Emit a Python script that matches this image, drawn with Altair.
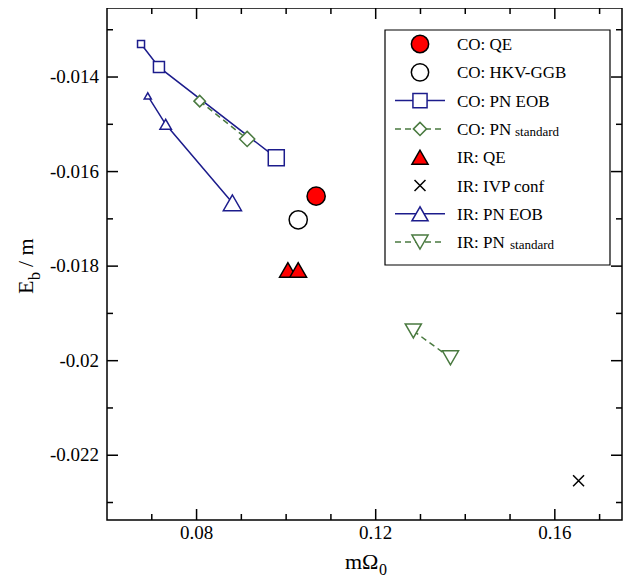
import altair as alt
import pandas as pd

FONT = "Liberation Serif"
NAVY = "#1c1c8c"
GREEN = "#4a7a40"
RED = "#ff0000"

# data
co_eob_x = [0.0676, 0.0716, 0.0978]; co_eob_y = [-0.01330, -0.01379, -0.01571]; co_eob_s = [49, 121, 256]
co_pn_x = [0.0807, 0.0913]; co_pn_y = [-0.01451, -0.01531]; co_pn_s = [130, 230]
ir_eob_x = [0.0691, 0.0731, 0.0880]; ir_eob_y = [-0.01440, -0.01500, -0.01666]; ir_eob_s = [50, 130, 330]
co_qe_x = [0.1067]; co_qe_y = [-0.01652]
co_hkv_x = [0.1027]; co_hkv_y = [-0.01702]
ir_qe_x = [0.1004, 0.1027]; ir_qe_y = [-0.01808, -0.01808]
ir_ivp_x = [0.1653]; ir_ivp_y = [-0.02254]
ir_pn_x = [0.1284, 0.1367]; ir_pn_y = [-0.01937, -0.01994]; ir_pn_s = [260, 260]

XDOM = [0.06, 0.175]
YDOM = [-0.02337, -0.01254]
x_minor = [0.07, 0.09, 0.10, 0.11, 0.13, 0.14, 0.15, 0.17]
x_major = [0.08, 0.12, 0.16]
x_labels = ["0.08", "0.12", "0.16"]
y_minor = [-0.013, -0.015, -0.017, -0.019, -0.021, -0.023]
y_major = [-0.014, -0.016, -0.018, -0.020, -0.022]
y_labels = ["-0.014", "-0.016", "-0.018", "-0.02", "-0.022"]

W, H = 515, 512
xs = alt.Scale(domain=XDOM, nice=False, zero=False)
ys = alt.Scale(domain=YDOM, nice=False, zero=False)
XN = alt.X("x:Q", scale=xs, axis=None)
YN = alt.Y("y:Q", scale=ys, axis=None)

def df(x, y, s=None):
    d = pd.DataFrame({"x": x, "y": y})
    d["s"] = s if s is not None else [250] * len(x)
    d["o"] = range(len(x))
    return d

layers = []

def series(x, y, s, shape, color, fill, dash=None, line=True, sw=1.5):
    d = df(x, y, s)
    out = []
    if line:
        lk = dict(color=color, strokeWidth=1.5)
        if dash:
            lk["strokeDash"] = dash
        out.append(alt.Chart(d).mark_line(**lk).encode(x=XN, y=YN, order="o:Q"))
    out.append(alt.Chart(d).mark_point(shape=shape, stroke=color, fill=fill, filled=False,
                                       fillOpacity=1, opacity=1, strokeWidth=sw).encode(
        x=XN, y=YN, size=alt.Size("s:Q", scale=None)))
    return out

XSHAPE = "M-1,-1L1,1M-1,1L1,-1"
layers += series(co_eob_x, co_eob_y, co_eob_s, "square", NAVY, "white")
layers += series(co_pn_x, co_pn_y, co_pn_s, "diamond", GREEN, "white", dash=[6, 4])
layers += series(ir_eob_x, ir_eob_y, ir_eob_s, "triangle-up", NAVY, "white")
layers += series(co_qe_x, co_qe_y, [330], "circle", "black", RED, line=False)
layers += series(co_hkv_x, co_hkv_y, [330], "circle", "black", "white", line=False)
layers += series(ir_qe_x, ir_qe_y, [280, 280], "triangle-up", "black", RED, line=False)
layers += series(ir_ivp_x, ir_ivp_y, [120], XSHAPE, "black", "white", line=False)
layers += series(ir_pn_x, ir_pn_y, ir_pn_s, "triangle-down", GREEN, "white", dash=[6, 4])

def xticks(vals, L):
    d = pd.DataFrame({"x": vals})
    b = alt.Chart(d).mark_rule(color="black", strokeWidth=1.5).encode(x=XN, y=alt.value(H), y2=alt.value(H - L))
    t = alt.Chart(d).mark_rule(color="black", strokeWidth=1.5).encode(x=XN, y=alt.value(0), y2=alt.value(L))
    return [b, t]

def yticks(vals, L):
    d = pd.DataFrame({"y": vals})
    l = alt.Chart(d).mark_rule(color="black", strokeWidth=1.5).encode(y=YN, x=alt.value(0), x2=alt.value(L))
    r = alt.Chart(d).mark_rule(color="black", strokeWidth=1.5).encode(y=YN, x=alt.value(W), x2=alt.value(W - L))
    return [l, r]

layers += xticks(x_major, 11) + xticks(x_minor, 6) + yticks(y_major, 11) + yticks(y_minor, 6)

# tick labels
layers.append(alt.Chart(pd.DataFrame({"x": x_major, "t": x_labels})).mark_text(
    font=FONT, fontSize=19, color="black", baseline="top", dy=4).encode(x=XN, y=alt.value(H), text="t:N"))
layers.append(alt.Chart(pd.DataFrame({"y": y_major, "t": y_labels})).mark_text(
    font=FONT, fontSize=19, color="black", align="right", baseline="middle", dx=-8).encode(
    y=YN, x=alt.value(0), text="t:N"))

def txt(s, x, y, size=20, angle=0, align="left"):
    return alt.Chart(pd.DataFrame({"t": [s]})).mark_text(font=FONT, fontSize=size, angle=angle,
                                                         align=align, baseline="alphabetic", color="black").encode(
        text="t:N", x=alt.value(x), y=alt.value(y))

# axis titles
layers += [txt("mΩ", 238, H + 49, size=22), txt("0", 272, H + 55, size=16)]
layers += [txt("E", -74, 286, size=22, angle=270), txt("b", -67, 272, size=16, angle=270),
           txt("/ m", -74, 259, size=22, angle=270)]

# legend
bx0, bx1, by0, by1 = 278, 503, 22, 257
layers.append(alt.Chart(pd.DataFrame({"a": [0]})).mark_rect(fill="white", stroke="black", strokeWidth=1.2).encode(
    x=alt.value(bx0), x2=alt.value(bx1), y=alt.value(by0), y2=alt.value(by1)))
leg_main = ["CO: QE", "CO: HKV-GGB", "CO: PN EOB", "CO: PN", "IR: QE", "IR: IVP conf", "IR: PN EOB", "IR: PN"]
leg_sub_x = [0, 0, 0, 408, 0, 0, 0, 403]
leg_shape = ["circle", "circle", "square", "diamond", "triangle-up", XSHAPE, "triangle-up", "triangle-down"]
leg_stroke = ["black", "black", NAVY, GREEN, "black", "black", NAVY, GREEN]
leg_fill = [RED, "white", "white", "white", RED, "white", "white", "white"]
leg_size = [300, 300, 200, 170, 260, 120, 260, 260]
leg_line = [None, None, "solid", "dash", None, None, "solid", "dash"]
row0, dy = 36, 28.3
for i in range(8):
    yy = row0 + dy * i
    if leg_line[i]:
        lk = dict(color=leg_stroke[i], strokeWidth=1.5)
        if leg_line[i] == "dash":
            lk["strokeDash"] = [6, 4]
        layers.append(alt.Chart(pd.DataFrame({"a": [0]})).mark_rule(**lk).encode(
            x=alt.value(288), x2=alt.value(338), y=alt.value(yy)))
    layers.append(alt.Chart(pd.DataFrame({"a": [0]})).mark_point(
        shape=leg_shape[i], stroke=leg_stroke[i], fill=leg_fill[i], filled=False, fillOpacity=1,
        opacity=1, strokeWidth=1.5, size=leg_size[i]).encode(x=alt.value(313), y=alt.value(yy)))
    layers.append(txt(leg_main[i], 350, yy + 6, size=17))
    if leg_sub_x[i]:
        layers.append(txt("standard", leg_sub_x[i], yy + 7, size=13))

chart = alt.layer(*layers).properties(
    width=W, height=H, padding={"left": 99, "top": 0, "right": 6, "bottom": 60}, autosize="none"
).configure_view(stroke="black", strokeWidth=1.5)

chart.save("out.html", embed_options={"renderer": "svg", "actions": False})
